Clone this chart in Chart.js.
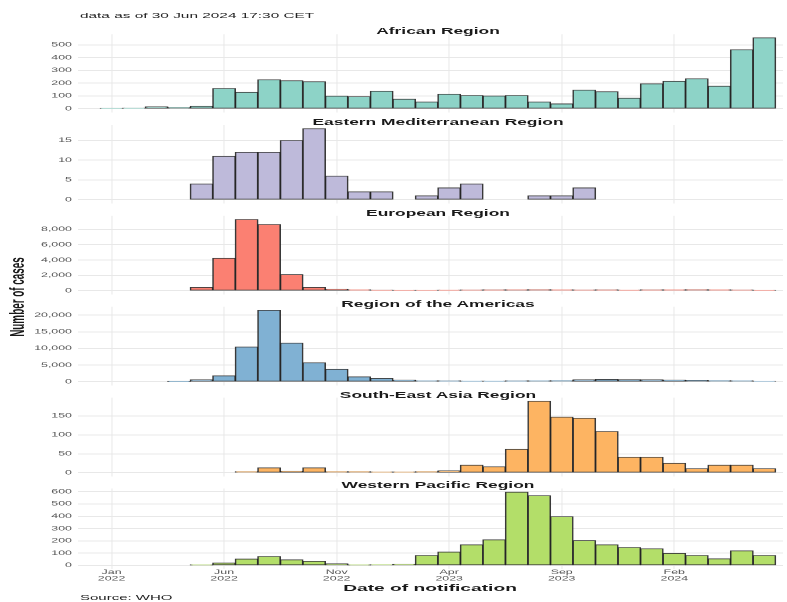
<!DOCTYPE html>
<html><head><meta charset="utf-8">
<script src="https://cdn.jsdelivr.net/npm/chart.js@4.4.1/dist/chart.umd.min.js"></script>
<style>
html,body{margin:0;padding:0;background:#fff;overflow:hidden;width:787px;height:602px}
#wrap{position:absolute;left:0;top:0;width:394px;height:602px;transform:scaleX(2);transform-origin:0 0;}
canvas{position:absolute;left:0}
.t{position:absolute;font-family:"Liberation Sans",Arial,sans-serif;white-space:nowrap;color:#1a1a1a;line-height:1}
.c{transform:translate(-50%,-50%)}
</style></head><body>
<div id="wrap"></div>
<script>
// ---------------- DATA ----------------
const months = ["Jan 2022","Feb 2022","Mar 2022","Apr 2022","May 2022","Jun 2022","Jul 2022","Aug 2022","Sep 2022","Oct 2022","Nov 2022","Dec 2022",
  "Jan 2023","Feb 2023","Mar 2023","Apr 2023","May 2023","Jun 2023","Jul 2023","Aug 2023","Sep 2023","Oct 2023","Nov 2023","Dec 2023",
  "Jan 2024","Feb 2024","Mar 2024","Apr 2024","May 2024","Jun 2024"];

const african = [3,5,15,10,20,159,129,227,220,212,99,95,
  137,75,53,114,104,100,104,53,38,146,134,83,
  195,215,235,177,462,555];
const easternMed = [null,null,null,null,4,11,12,12,15,18,6,2,
  2,null,1,3,4,null,null,1,1,3,null,null,
  null,null,null,null,null,null];
const european = [null,null,null,null,440,4240,9300,8650,2120,440,200,120,
  80,60,70,90,100,110,130,150,120,100,110,90,
  110,120,150,120,100,60];
const americas = [null,null,null,50,590,1770,10460,21480,11640,5730,3750,1480,
  1000,500,300,250,200,200,250,300,350,600,700,650,
  600,500,400,350,300,150];
const southEastAsia = [null,null,null,null,null,null,3,13,4,13,3,3,
  2,2,3,5,20,16,62,189,147,144,109,41,
  41,25,11,20,20,11];
const westernPacific = [null,null,null,null,3,20,52,73,46,33,14,3,
  6,10,81,109,168,209,597,569,398,203,168,146,
  136,98,81,54,119,81];

const regionNames = ["African Region","Eastern Mediterranean Region","European Region","Region of the Americas","South-East Asia Region","Western Pacific Region"];
const regionColors = ["#8DD3C7","#BEBADA","#FB8072","#80B1D3","#FDB462","#B3DE69"];

const africanTicks = [0,100,200,300,400,500];
const easternMedTicks = [0,5,10,15];
const europeanTicks = [0,2000,4000,6000,8000];
const americasTicks = [0,5000,10000,15000,20000];
const southEastAsiaTicks = [0,50,100,150];
const westernPacificTicks = [0,100,200,300,400,500,600];

const xTickMonths = ["Jan 2022","Jun 2022","Nov 2022","Apr 2023","Sep 2023","Feb 2024"];

// ---------------- LAYOUT ----------------
const series = [african, easternMed, european, americas, southEastAsia, westernPacific];
const tickSets = [africanTicks, easternMedTicks, europeanTicks, americasTicks, southEastAsiaTicks, westernPacificTicks];
const xTickPos = xTickMonths.map(m => months.indexOf(m));

const W = 394, PLOT_TOP0 = 34.2, PITCH = 90.85, PLOT_H = 80.6, AXIS_W = 39, PAD_R = 2.5;
const FONT = '"Liberation Sans", Arial, sans-serif';
Chart.defaults.font.family = FONT;

const wrap = document.getElementById('wrap');
function addText(txt, style, cls) {
  const d = document.createElement('div');
  d.className = 't ' + (cls || '');
  d.textContent = txt;
  d.setAttribute('style', style);
  wrap.appendChild(d);
}

addText("data as of 30 Jun 2024 17:30 CET", "left:40px;top:11.9px;font-size:7.7px;color:#222");
addText("Number of cases", "left:8.5px;top:297px;font-size:9.9px;font-weight:bold;transform:translate(-50%,-50%) rotate(-90deg)");
addText("Date of notification", "left:215px;top:587.5px;font-size:9.6px;font-weight:bold", "c");
addText("Source: WHO", "left:40px;top:594px;font-size:7.5px;color:#222");

series.forEach((vals, i) => {
  const isLast = i === series.length - 1;
  const plotTop = PLOT_TOP0 + PITCH * i;
  const canvasTop = Math.floor(plotTop - 12);
  const padTop = plotTop - canvasTop;
  const H = Math.ceil(padTop + PLOT_H + (isLast ? 16 : 4));
  const xh = H - padTop - PLOT_H;

  addText(regionNames[i], `left:219px;top:${plotTop - 3.1}px;font-size:8.7px;font-weight:bold`, 'c');

  const cv = document.createElement('canvas');
  cv.width = W; cv.height = H;
  cv.style.top = canvasTop + 'px';
  cv.style.width = W + 'px'; cv.style.height = H + 'px';
  wrap.appendChild(cv);

  const maxV = Math.max(...vals.filter(v => v !== null));
  const ticks = tickSets[i];

  new Chart(cv, {
    type: 'bar',
    data: {
      datasets: [{
        data: vals.map((v, k) => ({x: k, y: v})),
        backgroundColor: regionColors[i],
        borderColor: 'rgba(35,35,35,0.9)',
        borderWidth: 0.8,
        borderSkipped: false,
        barPercentage: 1,
        categoryPercentage: 1
      }]
    },
    options: {
      responsive: false,
      animation: false,
      devicePixelRatio: 2,
      layout: {padding: {top: padTop, right: PAD_R, left: 0, bottom: 0}},
      plugins: {legend: {display: false}, tooltip: {enabled: false}, title: {display: false}},
      scales: {
        x: {
          type: 'linear', min: -1.49, max: 29.83, offset: false,
          afterBuildTicks: s => { s.ticks = xTickPos.map(v => ({value: v})); },
          afterFit: s => { s.height = xh; },
          ticks: {
            display: isLast, autoSkip: false, maxRotation: 0, padding: 0,
            font: {size: 6.2, lineHeight: 1.05}, color: '#555',
            callback: v => { const k = xTickPos.indexOf(v); return k >= 0 ? months[v].split(' ') : ''; }
          },
          grid: {color: '#ececec', lineWidth: 0.6, drawTicks: false, offset: false},
          border: {display: false}
        },
        y: {
          min: -0.05 * maxV, max: 1.05 * maxV,
          afterBuildTicks: s => { s.ticks = ticks.map(v => ({value: v})); },
          afterFit: s => { s.width = AXIS_W; },
          ticks: {
            font: {size: 6.2}, color: '#555', padding: 3,
            callback: v => Number(v).toLocaleString('en-US')
          },
          grid: {color: '#e8e8e8', lineWidth: 1, drawTicks: false},
          border: {display: false}
        }
      }
    }
  });
});
</script>
</body></html>
